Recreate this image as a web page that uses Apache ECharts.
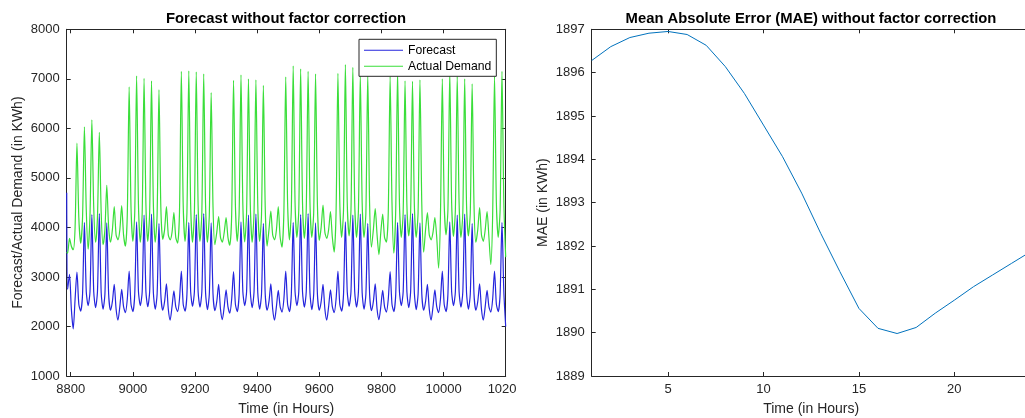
<!DOCTYPE html>
<html><head><meta charset="utf-8">
<script src="https://cdn.jsdelivr.net/npm/echarts@6/dist/echarts.min.js"></script>
<style>
html,body{margin:0;padding:0;background:#fff;width:1025px;height:418px;overflow:hidden;}
#left{position:absolute;left:0;top:0;width:516px;height:418px;}
#right{position:absolute;left:516px;top:0;width:509px;height:418px;}
</style></head><body>
<div id="left"></div><div id="right"></div>
<script>
// ---- data: left panel (readings every 6 h: 0h, 6h, 12h, 18h of each day) ----
const startHour = 8787;
const gridStartHour = 8790;
const sampleStep = 6;
const endHour = 10200;

const forecast = [
  4700,
  2750,3050,2350,
  1950,2550,3100,2450, 2310,2650,4100,2700, 2420,2700,4260,2700, 2380,2700,4280,2680, 2350,2650,4090,2650, 2330,2500,2850,2350, 2130,2400,2750,2400,
  2280,2550,3120,2450, 2300,2650,4110,2700, 2420,2700,4250,2700, 2400,2700,4270,2680, 2350,2650,4080,2650, 2330,2500,2860,2350, 2130,2400,2720,2400,
  2300,2550,3120,2450, 2310,2650,4100,2700, 2410,2700,4260,2700, 2390,2700,4280,2680, 2340,2650,4090,2650, 2320,2500,2850,2350, 2140,2400,2740,2400,
  2270,2550,3110,2450, 2300,2650,4110,2700, 2420,2700,4250,2700, 2380,2700,4270,2680, 2350,2650,4080,2650, 2330,2500,2860,2350, 2130,2400,2730,2400,
  2290,2550,3120,2450, 2300,2650,4100,2700, 2420,2700,4260,2700, 2390,2700,4280,2680, 2340,2650,4090,2650, 2330,2500,2850,2350, 2130,2400,2740,2400,
  2280,2550,3120,2450, 2310,2650,4110,2700, 2410,2700,4250,2700, 2390,2700,4270,2680, 2350,2650,4080,2650, 2320,2500,2860,2350, 2140,2400,2730,2400,
  2290,2550,3110,2450, 2300,2650,4100,2700, 2420,2700,4260,2700, 2380,2700,4280,2680, 2340,2650,4090,2650, 2330,2500,2850,2350, 2130,2400,2740,2400,
  2280,2550,3120,2450, 2300,2650,4110,2700, 2420,2700,4250,2700, 2390,2700,4270,2680, 2350,2650,4080,2650, 2330,2500,2860,2350, 2130,2400,2730,2400,
  2290,2550,3120,2450, 2300,2650,4100,2700,
  2000
];
const actualDemand = [
  3500,
  3480,3780,3620,
  3550,4000,5700,4200, 3680,4200,6030,4350, 3560,4250,6170,4400, 3700,4200,5920,4300, 3650,3950,4850,4000, 3700,3950,4420,3850, 3750,3950,4440,3850,
  3620,4250,6840,4400, 3720,4300,7060,4450, 3700,4300,7010,4450, 3720,4300,6960,4450, 3700,4250,6780,4400, 3760,3950,4420,3850, 3750,3900,4300,3800,
  3680,4300,7150,4450, 3720,4300,7160,4450, 3700,4300,7140,4450, 3720,4300,7100,4450, 3700,4250,6720,4400, 3650,3900,4220,3800, 3700,3900,4200,3800,
  3640,4250,6970,4450, 3720,4300,7080,4450, 3710,4300,7000,4450, 3700,4300,6980,4450, 3720,4250,6870,4400, 3620,3950,4330,3850, 3750,3950,4420,3800,
  3600,4300,7040,4500, 3750,4350,7260,4500, 3800,4350,7200,4500, 3780,4350,7150,4500, 3800,4300,7100,4450, 3740,4000,4450,3900, 3780,3950,4320,3800,
  3500,4300,7110,4500, 3800,4350,7290,4500, 3830,4350,7230,4500, 3800,4350,7090,4500, 3800,4300,7090,4450, 3600,3950,4380,3850, 3450,3900,4270,3800,
  3700,4300,7050,4500, 3480,4350,7150,4500, 3800,4300,6960,4450, 3830,4300,6950,4450, 3800,4300,6980,4450, 3500,3950,4300,3850, 3750,3900,4200,3800,
  3180,4250,7000,4500, 3850,4350,7150,4500, 3820,4350,7050,4500, 3800,4300,7000,4450, 3830,4300,6900,4450, 3700,3950,4400,3850, 3720,3950,4320,3800,
  3250,4250,7050,4500, 3800,4350,7150,4500,
  3400
];
const leftXTicks = [8800, 9000, 9200, 9400, 9600, 9800, 10000, 10200];
const leftYMin = 1000, leftYMax = 8000, leftYStep = 1000;

// ---- data: right panel ----
const maeHours = [1,2,3,4,5,6,7,8,9,10,11,12,13,14,15,16,17,18,19,20,21,22,23,24];
const maeValues = [1896.28, 1896.60, 1896.81, 1896.91, 1896.95, 1896.88, 1896.63, 1896.14,
  1895.52, 1894.79, 1894.06, 1893.22, 1892.29, 1891.41, 1890.56, 1890.10, 1889.98, 1890.12,
  1890.45, 1890.75, 1891.06, 1891.33, 1891.60, 1891.87];
const rightXTicks = [5, 10, 15, 20];
const rightYMin = 1889, rightYMax = 1897, rightYStep = 1;

// ---- build ----
const hours = [startHour];
for (let t = gridStartHour; t <= endHour; t += sampleStep) hours.push(t);
const fcPts = hours.map((h, i) => [h, forecast[i]]);
const adPts = hours.map((h, i) => [h, actualDemand[i]]);
const maePts = maeHours.map((h, i) => [h, maeValues[i]]);

const FONT = "'Liberation Sans', Arial, Helvetica, sans-serif";
const AX = '#262626';
const plain = v => String(v);
const tickLbl = {fontFamily: FONT, fontSize: 13, color: AX, formatter: plain};
const nameTxt = {fontFamily: FONT, fontSize: 14, color: AX};

function boxAxisX(min, max, ticks, pos, withLabel, name) {
  const a = {
    type: 'value', min: min, max: max, position: pos,
    axisLine: {show: true, onZero: false, lineStyle: {color: AX, width: 1}},
    axisTick: {show: true, inside: true, length: 4, customValues: ticks, lineStyle: {color: AX}},
    axisLabel: {show: withLabel, customValues: ticks, margin: 7, ...tickLbl},
    splitLine: {show: false}
  };
  if (name) { a.name = name; a.nameLocation = 'middle'; a.nameGap = 26; a.nameMoveOverlap = false; a.nameTextStyle = nameTxt; }
  return a;
}
function boxAxisY(min, max, step, pos, withLabel, name, gap) {
  const a = {
    type: 'value', min: min, max: max, interval: step, position: pos,
    axisLine: {show: true, onZero: false, lineStyle: {color: AX, width: 1}},
    axisTick: {show: true, inside: true, length: 4, lineStyle: {color: AX}},
    axisLabel: {show: withLabel, margin: 7, ...tickLbl},
    splitLine: {show: false}
  };
  if (name) { a.name = name; a.nameLocation = 'middle'; a.nameGap = gap; a.nameMoveOverlap = false; a.nameTextStyle = nameTxt; }
  return a;
}

const lineSeries = (name, pts, color) => ({
  name: name, type: 'line', data: pts, symbol: 'none', xAxisIndex: 0, yAxisIndex: 0,
  smooth: 0.25, lineStyle: {color: color, width: 1.2}, itemStyle: {color: color}
});

const leftChart = echarts.init(document.getElementById('left'), null, {renderer: 'canvas'});
leftChart.setOption({
  animation: false,
  backgroundColor: '#fff',
  title: {text: 'Forecast without factor correction', left: 286, top: 11, padding: 0, textAlign: 'center',
    textStyle: {fontFamily: FONT, fontSize: 14.8, fontWeight: 'bold', color: '#000'}},
  grid: {left: 66.7, top: 29.3, width: 439, bottom: 42, outerBoundsMode: 'none', containLabel: false},
  legend: {
    orient: 'vertical', left: 359, top: 39.3, padding: [4, 5, 3, 5], itemGap: 2,
    icon: 'rect', itemWidth: 39, itemHeight: 1,
    borderColor: AX, borderWidth: 1, backgroundColor: '#fff',
    textStyle: {fontFamily: FONT, fontSize: 12.2, color: '#000', lineHeight: 14},
    data: ['Forecast', 'Actual Demand']
  },
  xAxis: [
    boxAxisX(startHour, endHour, leftXTicks, 'bottom', true, 'Time (in Hours)'),
    boxAxisX(startHour, endHour, leftXTicks, 'top', false)
  ],
  yAxis: [
    boxAxisY(leftYMin, leftYMax, leftYStep, 'left', true, 'Forecast/Actual Demand (in KWh)', 42),
    boxAxisY(leftYMin, leftYMax, leftYStep, 'right', false)
  ],
  series: [
    lineSeries('Forecast', fcPts, '#2525dd'),
    lineSeries('Actual Demand', adPts, '#3ade3a')
  ]
});

const rightChart = echarts.init(document.getElementById('right'), null, {renderer: 'canvas'});
rightChart.setOption({
  animation: false,
  backgroundColor: '#fff',
  title: {text: 'Mean Absolute Error (MAE) without factor correction', left: 295, top: 11, padding: 0, textAlign: 'center',
    textStyle: {fontFamily: FONT, fontSize: 14.8, fontWeight: 'bold', color: '#000'}},
  grid: {left: 75.7, top: 29.3, width: 439, bottom: 42, outerBoundsMode: 'none', containLabel: false},
  xAxis: [
    boxAxisX(maeHours[0], maeHours[maeHours.length - 1], rightXTicks, 'bottom', true, 'Time (in Hours)'),
    boxAxisX(maeHours[0], maeHours[maeHours.length - 1], rightXTicks, 'top', false)
  ],
  yAxis: [
    boxAxisY(rightYMin, rightYMax, rightYStep, 'left', true, 'MAE (in KWh)', 42)
  ],
  series: [
    {name: 'MAE', type: 'line', data: maePts, symbol: 'none', xAxisIndex: 0, yAxisIndex: 0,
      lineStyle: {color: '#0072bd', width: 1}}
  ]
});
</script>
</body></html>
